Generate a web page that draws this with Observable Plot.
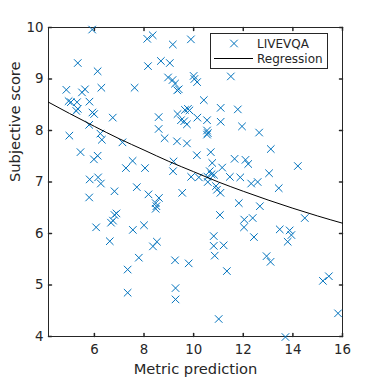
<!DOCTYPE html>
<html><head><meta charset="utf-8">
<script src="https://cdn.jsdelivr.net/npm/d3@7"></script>
<script src="https://cdn.jsdelivr.net/npm/@observablehq/plot@0.6"></script>
<style>
body{margin:0;background:#fff;}
#wrap{position:relative;width:378px;height:378px;}
</style></head>
<body><div id="wrap"></div>
<script>
// Scatter: metric prediction (x) vs subjective score (y), LIVEVQA
const metric = [5.91,5.33,6.13,4.87,5.62,5.50,6.28,7.62,4.96,5.05,5.30,5.80,5.33,5.27,5.92,5.99,6.74,5.79,4.99,6.24,
6.30,7.13,5.44,6.13,5.98,7.54,7.27,8.04,5.81,6.15,6.26,6.81,7.71,5.79,6.81,6.89,6.75,6.67,6.07,7.55,
8.00,6.62,7.79,7.34,7.34,8.18,8.60,8.47,8.50,8.47,9.54,8.52,8.36,9.25,9.80,9.27,9.27,11.01,10.57,10.90,
10.94,11.08,11.82,11.06,12.04,12.03,10.81,10.81,11.21,10.85,11.34,12.32,12.58,13.43,12.67,12.38,14.48,12.43,13.47,13.87,
13.94,13.79,12.94,13.10,15.21,15.45,15.82,13.70,8.35,8.13,9.16,9.89,8.68,9.04,8.16,8.97,9.15,9.25,9.40,9.34,
10.00,10.03,10.14,11.50,10.41,11.09,11.78,8.59,9.35,9.65,9.77,9.83,9.49,9.62,9.73,10.15,10.54,11.09,11.95,8.59,
10.54,10.57,10.54,8.83,9.33,9.73,10.13,10.69,10.75,11.15,11.65,12.09,12.20,9.19,9.17,10.65,10.72,10.82,10.56,9.90,
10.21,11.46,11.88,12.64,13.11,13.04,14.20];
const subjective = [9.96,9.31,9.15,8.79,8.80,8.74,8.83,8.83,8.57,8.55,8.55,8.56,8.42,8.38,8.35,8.32,8.25,8.11,7.90,7.94,
7.82,7.77,7.58,7.51,7.44,7.41,7.27,7.27,7.05,7.09,6.97,6.82,6.90,6.70,6.36,6.39,6.25,6.21,6.12,6.07,
6.16,5.85,5.53,5.30,4.85,6.76,6.69,6.59,6.53,6.48,6.79,5.84,5.75,5.48,5.42,4.94,4.72,4.34,7.00,6.92,
6.85,6.79,6.59,6.36,6.27,6.12,5.95,5.76,5.77,5.57,5.27,6.97,7.00,6.88,6.53,6.30,6.30,5.93,6.08,6.06,
5.97,5.84,5.56,5.45,5.08,5.17,4.45,3.99,9.85,9.78,9.67,9.77,9.35,9.31,9.25,9.03,8.98,8.91,8.80,8.78,
9.06,9.00,8.94,9.05,8.59,8.44,8.41,8.26,8.32,8.40,8.42,8.39,8.20,8.18,8.12,8.25,8.20,8.17,8.08,8.03,
8.00,7.95,7.92,7.85,7.79,7.75,7.52,7.58,7.37,7.28,7.45,7.43,7.35,7.40,7.21,7.21,7.15,7.14,7.10,7.10,
7.09,7.10,7.09,7.96,7.64,7.17,7.31];
// Regression curve
const regX = [4.15,5,6,7,8,9,10,11,12,13,14,15,16];
const regY = [8.55,8.33,8.08,7.84,7.62,7.40,7.20,7.00,6.82,6.65,6.49,6.34,6.20];
const xTicks = [6,8,10,12,14,16];
const yTicks = [4,5,6,7,8,9,10];
const seriesNames = ["LIVEVQA","Regression"];
const xLabel = "Metric prediction";
const yLabel = "Subjective score";

const blue = "#0072BD", ink = "#262626";
const font = "DejaVu Sans";
const pts = metric.map((x,i)=>({x, y: subjective[i]}));
const reg = regX.map((x,i)=>({x, y: regY[i]}));
const tickShape = {draw(ctx, l){ ctx.moveTo(0,0); ctx.lineTo(0,-l); }};

const chart = Plot.plot({
  width: 378, height: 378,
  marginLeft: 48, marginRight: 36, marginTop: 27, marginBottom: 42,
  style: {fontFamily: font, background: "#fff", color: ink},
  x: {domain: [4.15, 16], axis: null},
  y: {domain: [4, 10], axis: null},
  marks: [
    Plot.frame({stroke: ink, strokeWidth: 1}),
    Plot.vector(xTicks, {x: d=>d, frameAnchor: "bottom", length: 3, rotate: 0, anchor: "start", shape: tickShape, stroke: ink}),
    Plot.vector(xTicks, {x: d=>d, frameAnchor: "top", length: 3, rotate: 180, anchor: "start", shape: tickShape, stroke: ink}),
    Plot.vector(yTicks, {y: d=>d, frameAnchor: "left", length: 3, rotate: 90, anchor: "start", shape: tickShape, stroke: ink}),
    Plot.vector(yTicks, {y: d=>d, frameAnchor: "right", length: 3, rotate: -90, anchor: "start", shape: tickShape, stroke: ink}),
    Plot.text(xTicks, {x: d=>d, frameAnchor: "bottom", dy: 13, text: d=>String(d), fontSize: 13.33, lineAnchor: "middle", fill: ink}),
    Plot.text(yTicks, {y: d=>d, frameAnchor: "left", dx: -5, text: d=>String(d), fontSize: 13.33, textAnchor: "end", lineAnchor: "middle", fill: ink}),
    Plot.text([xLabel], {frameAnchor: "bottom", dy: 33, text: d=>d, fontSize: 14.67, lineAnchor: "middle", fill: ink}),
    Plot.text([yLabel], {frameAnchor: "left", dx: -33, rotate: -90, text: d=>d, fontSize: 14.67, lineAnchor: "middle", fill: ink}),
    Plot.dot(pts, {x: "x", y: "y", symbol: "times", r: 3.5, stroke: blue, strokeWidth: 1}),
    Plot.line(reg, {x: "x", y: "y", stroke: "#000", strokeWidth: 1, curve: "monotone-x"})
  ]
});
document.getElementById("wrap").appendChild(chart);

// Legend (inside the axes, top right)
const svg = d3.select(chart);
const lg = svg.append("g").attr("font-family", font).attr("font-size", 12)
  .attr("fill", ink).attr("text-anchor", "start");
lg.append("rect").attr("x", 210.5).attr("y", 33.5).attr("width", 117).attr("height", 35)
  .attr("fill", "#fff").attr("stroke", ink);
const sym = d3.symbol(d3.symbolTimes, Math.PI*3.5*3.5);
lg.append("path").attr("d", sym()).attr("transform", "translate(234,43.5)")
  .attr("fill", "none").attr("stroke", blue).attr("stroke-width", 1);
lg.append("line").attr("x1", 214).attr("x2", 253).attr("y1", 58.5).attr("y2", 58.5)
  .attr("stroke", "#000").attr("stroke-width", 1);
lg.append("text").attr("x", 257).attr("y", 48).attr("text-anchor", "start").text(seriesNames[0]);
lg.append("text").attr("x", 257).attr("y", 62.7).attr("text-anchor", "start").text(seriesNames[1]);
</script>
</body></html>
